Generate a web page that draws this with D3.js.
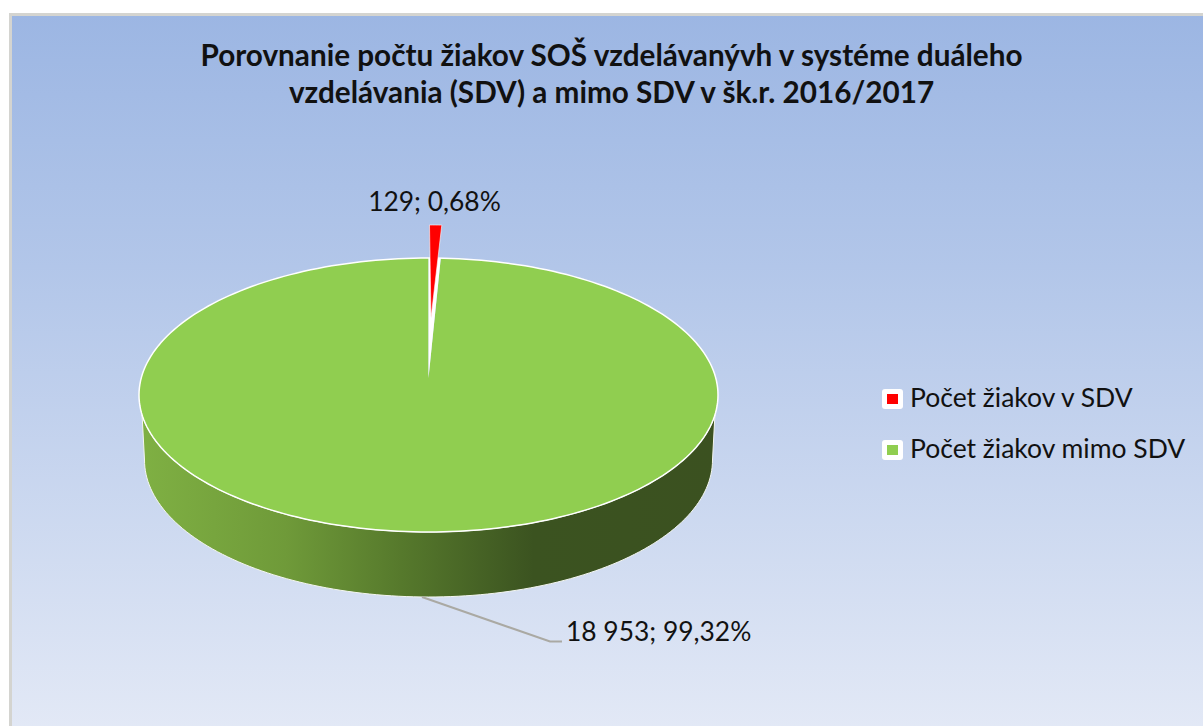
<!DOCTYPE html>
<html><head><meta charset="utf-8">
<script src="https://cdnjs.cloudflare.com/ajax/libs/d3/7.8.5/d3.min.js"></script>
<style>html,body{margin:0;padding:0;background:#fff;overflow:hidden}text{font-family:Lato,"Noto Sans",sans-serif;fill:#111}</style>
</head><body><svg id="c" width="1203" height="726"></svg>
<script>
const categories=["Počet žiakov v SDV","Počet žiakov mimo SDV"];
const values=[129,18953];
const valueLabels=["129; 0,68%","18 953; 99,32%"];
const colors=["#ff0000","#90ce50"];
const titleLines=["Porovnanie počtu žiakov SOŠ vzdelávanývh v systéme duáleho","vzdelávania (SDV) a mimo SDV v šk.r. 2016/2017"];

const svg=d3.select("#c"), defs=svg.append("defs");
const bg=defs.append("linearGradient").attr("id","bg").attr("x1",0).attr("y1",0).attr("x2",0).attr("y2",1);
[[0,"#9cb6e3"],[.35,"#b2c6e9"],[1,"#e3e9f6"]].forEach(s=>bg.append("stop").attr("offset",s[0]).attr("stop-color",s[1]));
const wall=defs.append("linearGradient").attr("id","wall").attr("gradientUnits","userSpaceOnUse").attr("x1",142).attr("x2",718).attr("y1",0).attr("y2",0);
[[0,"#7fb043"],[.25,"#6f9a39"],[.45,"#56792c"],[.68,"#3b5320"],[1,"#3b5120"]].forEach(s=>wall.append("stop").attr("offset",s[0]).attr("stop-color",s[1]));

svg.append("rect").attr("x",10.5).attr("y",14.5).attr("width",1200).attr("height",720).attr("fill","url(#bg)").attr("stroke","#d4d4d0").attr("stroke-width",3);

svg.selectAll(".t").data(titleLines).join("text").attr("class","t").attr("x",611.5).attr("y",(d,i)=>66+i*37)
  .attr("text-anchor","middle").attr("font-size",29.7).attr("font-weight",700).text(d=>d);

const cx=428.5,cy=395,rx=289.5,ry=137,apexY=378;
const baseCy=460,baseRx=284,baseRy=137;
const pie=d3.pie().sort(null).value(d=>d)(values);
const pt=(a,ox=0,oy=0)=>[cx+rx*Math.sin(a)+ox,cy-ry*Math.cos(a)+oy];
const basePt=a=>[cx+baseRx*Math.sin(a),baseCy-baseRy*Math.cos(a)];
const line=d3.line();
const tail=(a0,a1,n=60)=>d3.range(n+1).map(i=>a0+(a1-a0)*i/n);

// side wall: visible lower rim, narrowing slightly towards the base
const rimStart=Math.PI/2+0.146,rimEnd=Math.PI*1.5-0.146;
const wallPts=tail(rimStart,rimEnd,120).map(a=>pt(a)).concat(tail(Math.PI*1.5,Math.PI/2,120).map(basePt));
svg.append("path").attr("d",line(wallPts)+"Z").attr("fill","url(#wall)").attr("stroke","#f4f6f0").attr("stroke-width",1);

// large slice top face
const g=pie[1];
svg.append("path").attr("d",line([[cx,apexY]].concat(tail(g.startAngle,g.endAngle,240).map(a=>pt(a))))+"Z")
  .attr("fill",colors[1]).attr("stroke","none");
svg.append("path").attr("d",line(tail(0,2*Math.PI,240).map(a=>pt(a)))+"Z").attr("fill","none").attr("stroke","#fff").attr("stroke-width",1.5);
// gap left by the pulled-out slice
const r=pie[0];
svg.append("path").attr("d",line([[cx,apexY]].concat(tail(r.startAngle,r.endAngle,8).map(a=>pt(a))))+"Z").attr("fill","#fff");
// pulled-out slice
const lift=-33, apexLift=-60;
svg.append("path").attr("d",line([[cx+2.5,apexY+apexLift]].concat(tail(r.startAngle,r.endAngle,8).map(a=>pt(a,1,lift))))+"Z")
  .attr("fill",colors[0]).attr("stroke","#fff").attr("stroke-width",.6);

// labels
svg.append("text").attr("x",434.5).attr("y",211).attr("text-anchor","middle").attr("font-size",26.4).text(valueLabels[0]);
svg.append("text").attr("x",566).attr("y",641).attr("font-size",26.4).text(valueLabels[1]);
svg.append("path").attr("d",line([[422,597],[550,641.5],[562,641.5]])).attr("fill","none").attr("stroke","#aaa9a3").attr("stroke-width",2);

// legend
const leg=svg.selectAll(".l").data(categories).join("g").attr("class","l").attr("transform",(d,i)=>`translate(882,${389+i*51})`);
leg.append("rect").attr("width",21).attr("height",20).attr("rx",3).attr("fill","#fff");
leg.append("rect").attr("x",5).attr("y",5).attr("width",11).attr("height",10).attr("fill",(d,i)=>colors[i]);
leg.append("text").attr("x",28).attr("y",18).attr("font-size",26.5).text(d=>d);
</script></body></html>
